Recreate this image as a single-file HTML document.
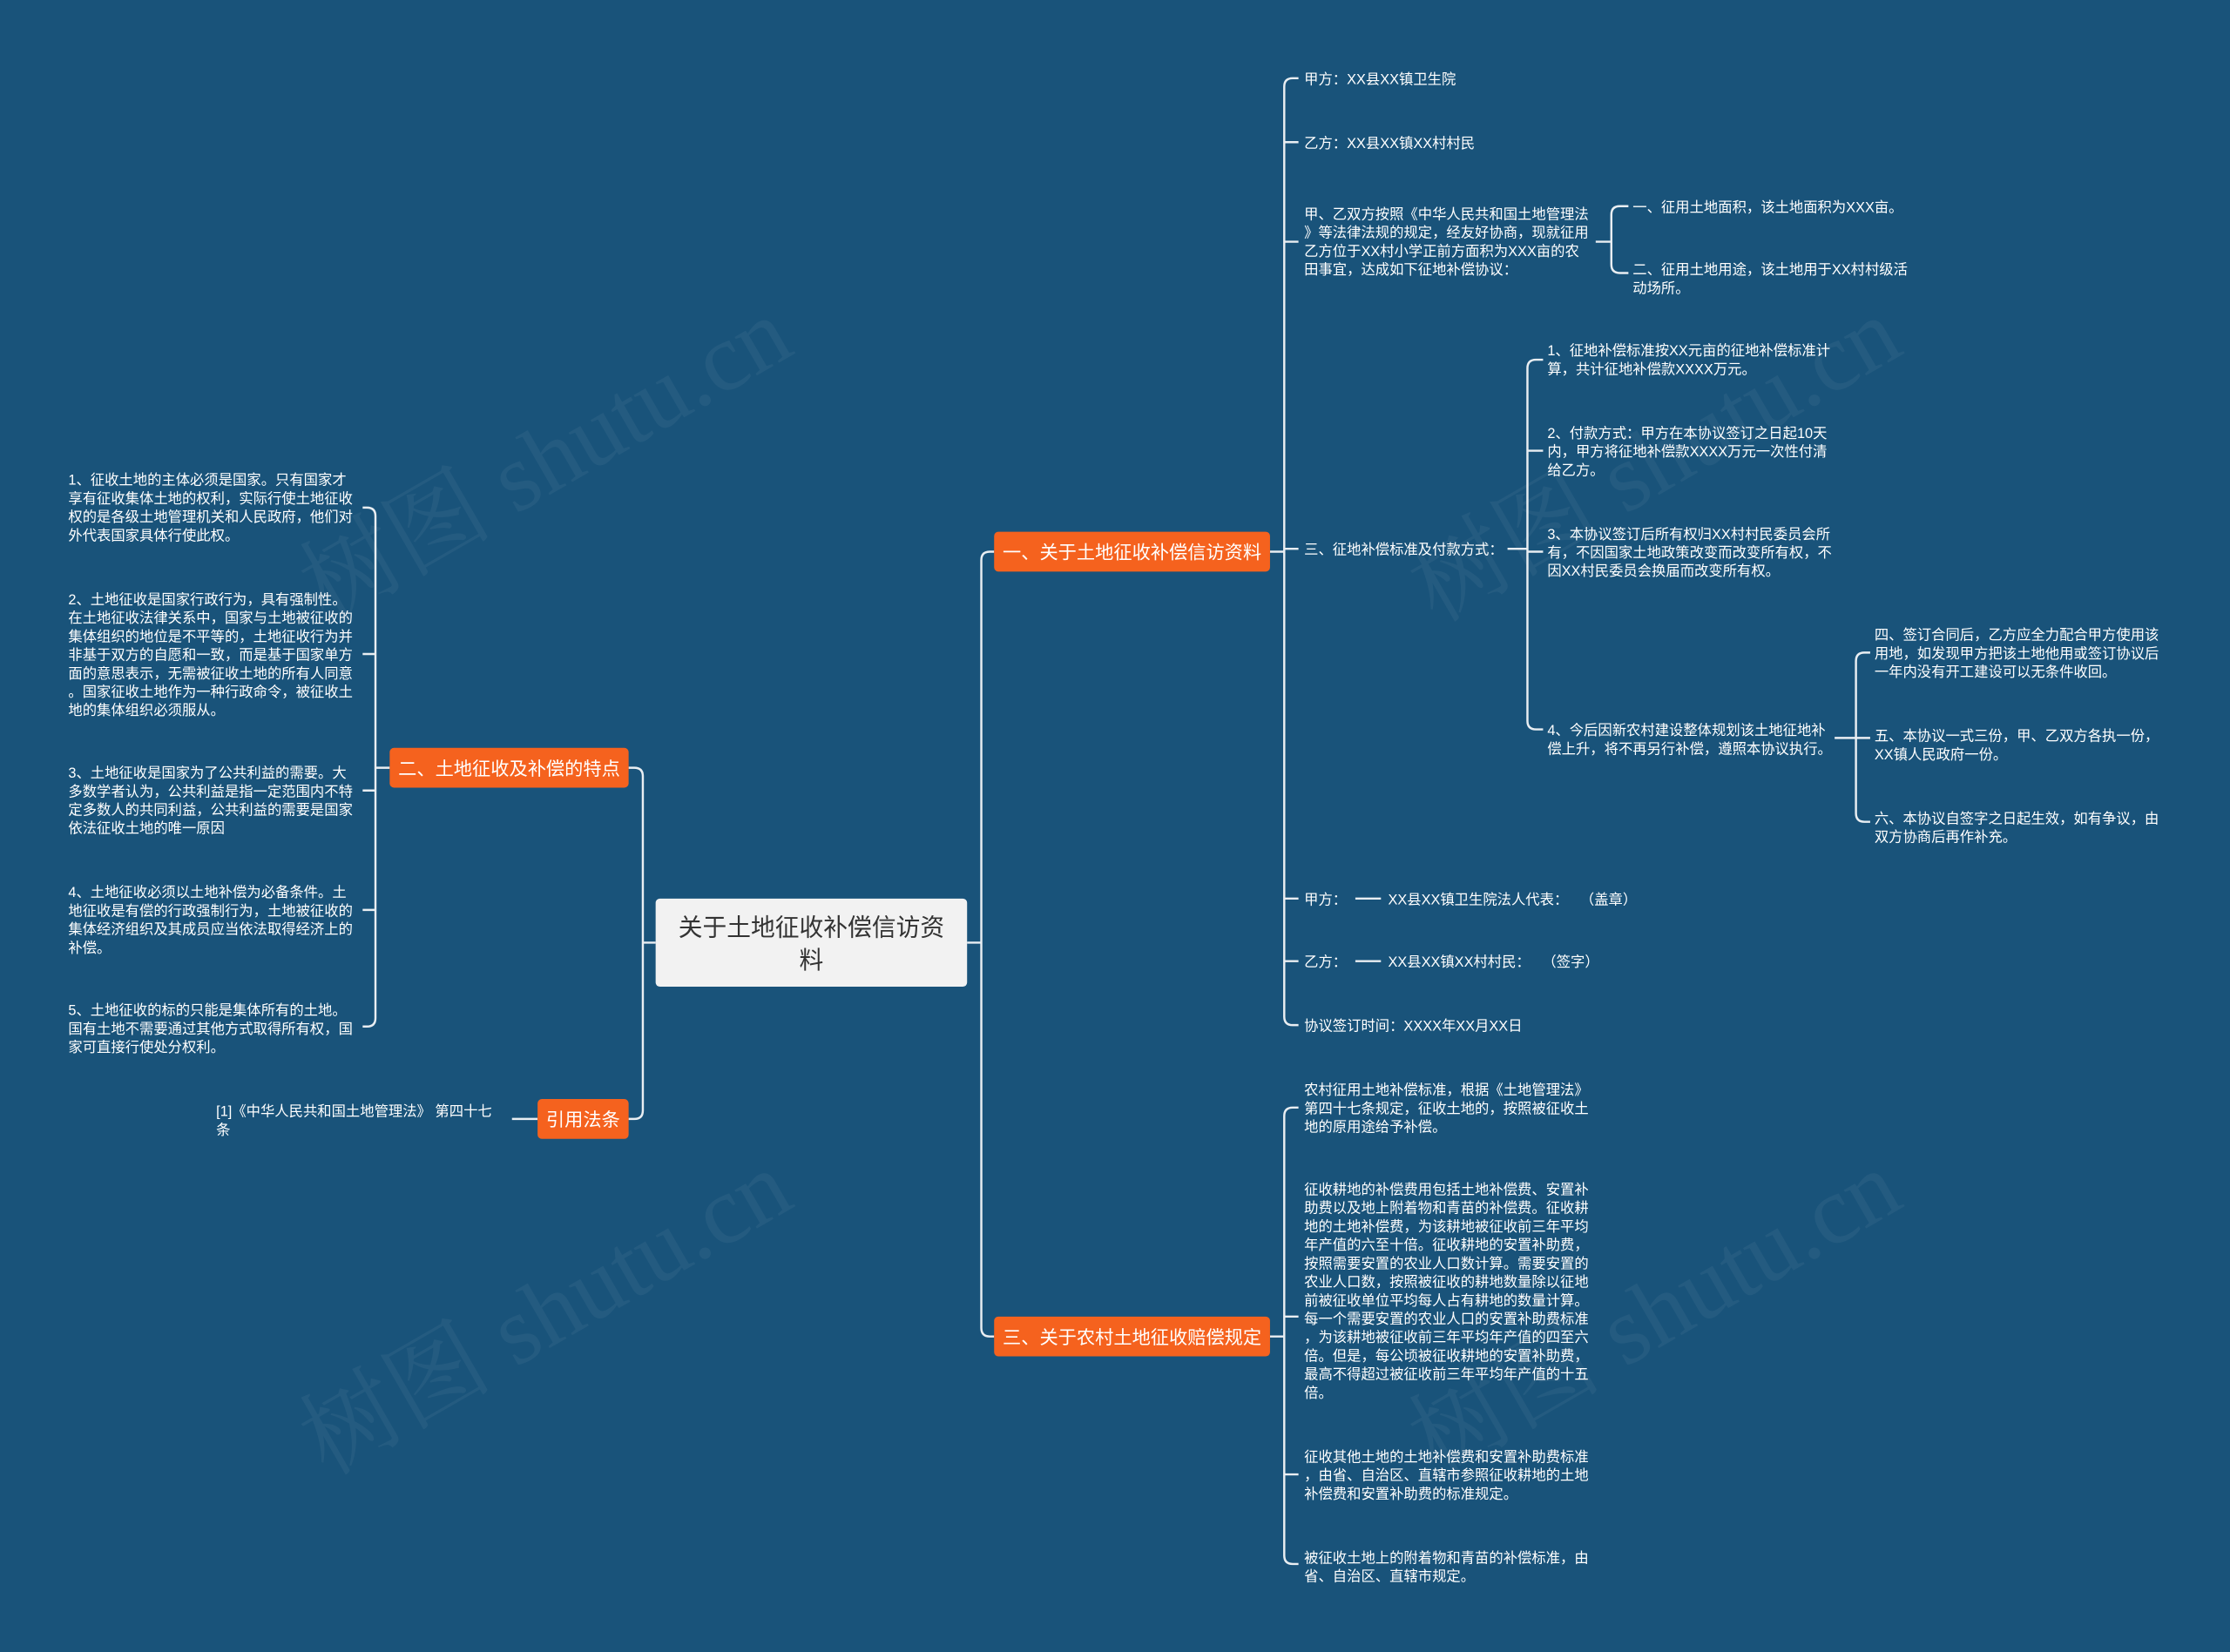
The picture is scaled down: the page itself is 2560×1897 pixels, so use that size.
<!DOCTYPE html>
<html><head><meta charset="utf-8"><style>
html,body{margin:0;padding:0;background:#19537a;}
body{width:2560px;height:1897px;overflow:hidden;position:relative;}
#w{position:absolute;left:0;top:0;width:1568px;height:1162px;transform:scale(1.63265);transform-origin:0 0;font-family:"Liberation Sans","Noto Sans CJK SC",sans-serif;}
.t{position:absolute;color:#fff;font-size:10px;line-height:13px;white-space:nowrap;margin-top:1px;}
.b{position:absolute;background:#f5621e;color:#fff;font-size:13px;line-height:30px;height:28px;text-align:center;border-radius:3px;white-space:nowrap;}
.c{position:absolute;left:461px;top:632px;width:219px;height:62px;background:#f2f2f2;border-radius:3px;color:#333;font-size:17px;line-height:23px;text-align:center;padding-top:9px;box-sizing:border-box;}
.wm{position:absolute;color:rgba(255,255,255,0.05);font-size:68px;font-family:"Liberation Serif","Noto Serif CJK SC",serif;transform:rotate(-30deg);white-space:nowrap;}
svg{position:absolute;left:0;top:0;}
</style></head><body><div id="w">
<div class="wm" style="left:190px;top:270px">树图 shutu.cn</div>
<div class="wm" style="left:970px;top:270px">树图 shutu.cn</div>
<div class="wm" style="left:190px;top:870px">树图 shutu.cn</div>
<div class="wm" style="left:970px;top:870px">树图 shutu.cn</div>
<svg width="1568" height="1162" fill="none" stroke="#e9eef2" stroke-width="1.5">
<path d="M680 663H690M690 394V934M690 394Q690 388 696 388H699M690 934Q690 940 696 940H699"/>
<path d="M461 663H452M452 546V781M452 546Q452 540 446 540H442M452 781Q452 787 446 787H442"/>
<path d="M893 388H903M903 61V715M903 61Q903 55 909 55H913M903 715Q903 721 909 721H913M903 100H913M903 170H913M903 386H913M903 632H913M903 676H913"/>
<path d="M1122 170H1133M1133 151V186M1133 151Q1133 145 1139 145H1145M1133 186Q1133 192 1139 192H1145"/>
<path d="M1060 386H1074M1074 259V507M1074 259Q1074 253 1080 253H1085M1074 507Q1074 513 1080 513H1085M1074 317H1085M1074 388H1085"/>
<path d="M1290 519H1305M1305 465V572M1305 465Q1305 459 1311 459H1315M1305 572Q1305 578 1311 578H1315M1305 519H1315"/>
<path d="M953 632H971M953 676H971"/>
<path d="M893 940H903M903 785V1094M903 785Q903 779 909 779H913M903 1094Q903 1100 909 1100H913M903 926H913M903 1037H913"/>
<path d="M274 540H264M264 363V716M264 363Q264 357 258 357H255M264 716Q264 722 258 722H255M264 460H255M264 556H255M264 640H255"/>
<path d="M378 787H360"/>
</svg>
<div class="c">关于土地征收补偿信访资<br>料</div>
<div class="b" style="left:699px;top:374px;width:194px">一、关于土地征收补偿信访资料</div>
<div class="b" style="left:699px;top:926px;width:194px">三、关于农村土地征收赔偿规定</div>
<div class="b" style="left:274px;top:526px;width:168px">二、土地征收及补偿的特点</div>
<div class="b" style="left:378px;top:773px;width:64px">引用法条</div>

<div class="t" style="left:917px;top:49px">甲方：XX县XX镇卫生院</div>
<div class="t" style="left:917px;top:94px">乙方：XX县XX镇XX村村民</div>
<div class="t" style="left:917px;top:144px">甲、乙双方按照《中华人民共和国土地管理法<br>》等法律法规的规定，经友好协商，现就征用<br>乙方位于XX村小学正前方面积为XXX亩的农<br>田事宜，达成如下征地补偿协议：</div>
<div class="t" style="left:1148px;top:139px">一、征用土地面积，该土地面积为XXX亩。</div>
<div class="t" style="left:1148px;top:183px">二、征用土地用途，该土地用于XX村村级活<br>动场所。</div>
<div class="t" style="left:917px;top:380px">三、征地补偿标准及付款方式：</div>
<div class="t" style="left:1088px;top:240px">1、征地补偿标准按XX元亩的征地补偿标准计<br>算，共计征地补偿款XXXX万元。</div>
<div class="t" style="left:1088px;top:298px">2、付款方式：甲方在本协议签订之日起10天<br>内，甲方将征地补偿款XXXX万元一次性付清<br>给乙方。</div>
<div class="t" style="left:1088px;top:369px">3、本协议签订后所有权归XX村村民委员会所<br>有，不因国家土地政策改变而改变所有权，不<br>因XX村民委员会换届而改变所有权。</div>
<div class="t" style="left:1088px;top:507px">4、今后因新农村建设整体规划该土地征地补<br>偿上升，将不再另行补偿，遵照本协议执行。</div>
<div class="t" style="left:1318px;top:440px">四、签订合同后，乙方应全力配合甲方使用该<br>用地，如发现甲方把该土地他用或签订协议后<br>一年内没有开工建设可以无条件收回。</div>
<div class="t" style="left:1318px;top:511px">五、本协议一式三份，甲、乙双方各执一份，<br>XX镇人民政府一份。</div>
<div class="t" style="left:1318px;top:569px">六、本协议自签字之日起生效，如有争议，由<br>双方协商后再作补充。</div>
<div class="t" style="left:917px;top:626px">甲方：</div><div class="t" style="left:976px;top:626px">XX县XX镇卫生院法人代表：&nbsp;&nbsp;&nbsp;（盖章）</div>
<div class="t" style="left:917px;top:670px">乙方：</div><div class="t" style="left:976px;top:670px">XX县XX镇XX村村民：&nbsp;&nbsp;&nbsp;（签字）</div>
<div class="t" style="left:917px;top:715px">协议签订时间：XXXX年XX月XX日</div>

<div class="t" style="left:917px;top:760px">农村征用土地补偿标准，根据《土地管理法》<br>第四十七条规定，征收土地的，按照被征收土<br>地的原用途给予补偿。</div>
<div class="t" style="left:917px;top:830px">征收耕地的补偿费用包括土地补偿费、安置补<br>助费以及地上附着物和青苗的补偿费。征收耕<br>地的土地补偿费，为该耕地被征收前三年平均<br>年产值的六至十倍。征收耕地的安置补助费，<br>按照需要安置的农业人口数计算。需要安置的<br>农业人口数，按照被征收的耕地数量除以征地<br>前被征收单位平均每人占有耕地的数量计算。<br>每一个需要安置的农业人口的安置补助费标准<br>，为该耕地被征收前三年平均年产值的四至六<br>倍。但是，每公顷被征收耕地的安置补助费，<br>最高不得超过被征收前三年平均年产值的十五<br>倍。</div>
<div class="t" style="left:917px;top:1018px">征收其他土地的土地补偿费和安置补助费标准<br>，由省、自治区、直辖市参照征收耕地的土地<br>补偿费和安置补助费的标准规定。</div>
<div class="t" style="left:917px;top:1089px">被征收土地上的附着物和青苗的补偿标准，由<br>省、自治区、直辖市规定。</div>

<div class="t" style="left:48px;top:331px">1、征收土地的主体必须是国家。只有国家才<br>享有征收集体土地的权利，实际行使土地征收<br>权的是各级土地管理机关和人民政府，他们对<br>外代表国家具体行使此权。</div>
<div class="t" style="left:48px;top:415px">2、土地征收是国家行政行为，具有强制性。<br>在土地征收法律关系中，国家与土地被征收的<br>集体组织的地位是不平等的，土地征收行为并<br>非基于双方的自愿和一致，而是基于国家单方<br>面的意思表示，无需被征收土地的所有人同意<br>。国家征收土地作为一种行政命令，被征收土<br>地的集体组织必须服从。</div>
<div class="t" style="left:48px;top:537px">3、土地征收是国家为了公共利益的需要。大<br>多数学者认为，公共利益是指一定范围内不特<br>定多数人的共同利益，公共利益的需要是国家<br>依法征收土地的唯一原因</div>
<div class="t" style="left:48px;top:621px">4、土地征收必须以土地补偿为必备条件。土<br>地征收是有偿的行政强制行为，土地被征收的<br>集体经济组织及其成员应当依法取得经济上的<br>补偿。</div>
<div class="t" style="left:48px;top:704px">5、土地征收的标的只能是集体所有的土地。<br>国有土地不需要通过其他方式取得所有权，国<br>家可直接行使处分权利。</div>
<div class="t" style="left:152px;top:775px">[1]《中华人民共和国土地管理法》 第四十七<br>条</div>
</div></body></html>
